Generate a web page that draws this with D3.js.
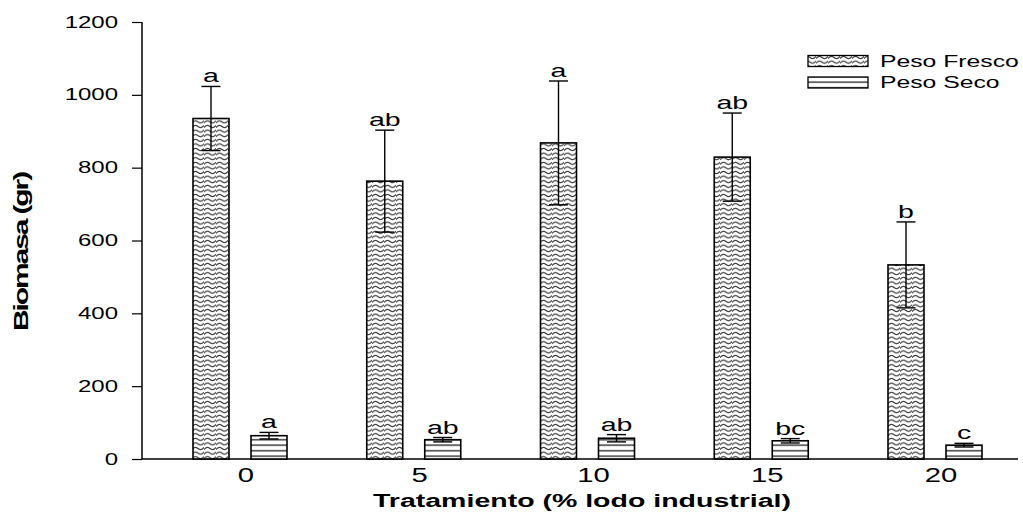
<!DOCTYPE html>
<html>
<head>
<meta charset="utf-8">
<script src="https://cdn.jsdelivr.net/npm/d3@7"></script>
<style>
  html, body { margin: 0; padding: 0; background: #fff; }
  svg { display: block; font-family: "Liberation Sans", Arial, sans-serif; }
</style>
</head>
<body>
<svg id="chart" width="1023" height="519"></svg>
<script>
// Treatment levels (% industrial sludge)
const categories = ["0", "5", "10", "15", "20"];
// Fresh weight (g): means and error
const pesoFresco = [935, 763, 868, 829, 533];
const errFresco = [88, 140, 170, 121, 118];
const letrasFresco = ["a", "ab", "a", "ab", "b"];
// Dry weight (g): means and error
const pesoSeco = [64, 53, 57, 50, 38];
const errSeco = [9, 6, 10, 6, 5];
const letrasSeco = ["a", "ab", "ab", "bc", "c"];
const yTicks = [0, 200, 400, 600, 800, 1000, 1200];
const seriesNames = ["Peso Fresco", "Peso Seco"];

// text in this figure is drawn horizontally widened
const SX = 1.5;

const svg = d3.select("#chart");

// Hatch patterns
const defs = svg.append("defs");
const wave = defs.append("pattern")
  .attr("id", "wave").attr("patternUnits", "userSpaceOnUse")
  .attr("width", 12).attr("height", 4.6);
wave.append("rect").attr("width", 12).attr("height", 4.6).attr("fill", "#fff");
wave.append("path")
  .attr("d", "M0,3.4 C2,0.8 4,0.8 6,2.3 C8,3.8 10,3.8 12,1.2")
  .attr("fill", "none").attr("stroke", "#333").attr("stroke-width", 1.15);

const hlines = defs.append("pattern")
  .attr("id", "hlines").attr("patternUnits", "userSpaceOnUse")
  .attr("width", 10).attr("height", 5.5).attr("y", 459);
hlines.append("rect").attr("width", 10).attr("height", 5.5).attr("fill", "#fff");
hlines.append("line").attr("x1", 0).attr("x2", 10).attr("y1", 2.7).attr("y2", 2.7)
  .attr("stroke", "#555").attr("stroke-width", 1.7);

const axisLeftX = 142, axisRightX = 1018, y0px = 459, yTop = 22;

const y = d3.scaleLinear().domain([0, 1200]).range([y0px, yTop]);
const x = d3.scalePoint().domain(categories).range([240, 935]);
const barW = 36, offset = 29;

// widened text placed at (px, py)
function wideText(parent, px, py, str, size, anchor, weight) {
  return parent.append("text")
    .attr("transform", `translate(${px},${py}) scale(${SX},1)`)
    .attr("text-anchor", anchor || "start")
    .attr("font-size", size)
    .attr("font-weight", weight || "normal")
    .attr("fill", "#000")
    .text(str);
}

// Y axis
const yAxis = svg.append("g")
  .attr("transform", `translate(${axisLeftX},0)`)
  .call(d3.axisLeft(y).tickValues(yTicks).tickSize(10).tickFormat(d3.format("d")));
yAxis.select(".domain").attr("stroke", "#000").attr("stroke-width", 1.5).attr("d", `M0,${y0px}V${yTop}`);
yAxis.selectAll(".tick line").attr("stroke", "#000").attr("stroke-width", 1.2);
yAxis.selectAll(".tick text")
  .attr("font-size", 16).attr("fill", "#000")
  .attr("font-family", "'Liberation Sans', Arial, sans-serif")
  .attr("x", -24 / SX)
  .attr("transform", `scale(${SX},1)`);

// X axis
svg.append("line").attr("x1", axisLeftX).attr("x2", axisRightX)
  .attr("y1", y0px).attr("y2", y0px).attr("stroke", "#000").attr("stroke-width", 1.5);
const xLabels = svg.append("g");
categories.forEach(c => wideText(xLabels, x(c) + 6, 482, c, 19.5, "middle"));

// Bars
function drawSeries(values, errs, letters, dx, fill) {
  const g = svg.append("g");
  categories.forEach((c, i) => {
    const cx = x(c) + dx;
    const v = values[i], e = errs[i];
    g.append("rect")
      .attr("x", cx - barW / 2).attr("y", y(v))
      .attr("width", barW).attr("height", y(0) - y(v))
      .attr("fill", fill).attr("stroke", "#000").attr("stroke-width", 1.6);
    // error bar
    g.append("line").attr("x1", cx).attr("x2", cx)
      .attr("y1", y(v + e)).attr("y2", y(Math.max(0, v - e)))
      .attr("stroke", "#000").attr("stroke-width", 1.4);
    [v + e, v - e].forEach(t => {
      g.append("line").attr("x1", cx - 9.5).attr("x2", cx + 9.5)
        .attr("y1", y(t)).attr("y2", y(t))
        .attr("stroke", "#000").attr("stroke-width", 1.4);
    });
    wideText(g, cx, y(v + e) - 4, letters[i], 19, "middle");
  });
}
drawSeries(pesoFresco, errFresco, letrasFresco, -offset, "url(#wave)");
drawSeries(pesoSeco, errSeco, letrasSeco, offset, "url(#hlines)");

// Legend
const legend = svg.append("g");
const fills = ["url(#wave)", "url(#hlines)"];
seriesNames.forEach((name, i) => {
  const ly = 55.5 + i * 21.5;
  legend.append("rect").attr("x", 808).attr("y", ly).attr("width", 60).attr("height", 11)
    .attr("fill", fills[i]).attr("stroke", "#000").attr("stroke-width", 1.3);
  wideText(legend, 880, ly + 11.2, name, 16.5, "start");
});

// Axis titles
svg.append("text")
  .attr("transform", `translate(28,252) rotate(-90)`)
  .attr("text-anchor", "middle").attr("font-size", 21).attr("font-weight", "bold")
  .attr("letter-spacing", -1.5).attr("fill", "#000")
  .attr("textLength", 158).attr("lengthAdjust", "spacingAndGlyphs")
  .text("Biomasa (gr)");
wideText(svg, 582, 507, "Tratamiento (% lodo industrial)", 19, "middle", "bold");
</script>
</body>
</html>
